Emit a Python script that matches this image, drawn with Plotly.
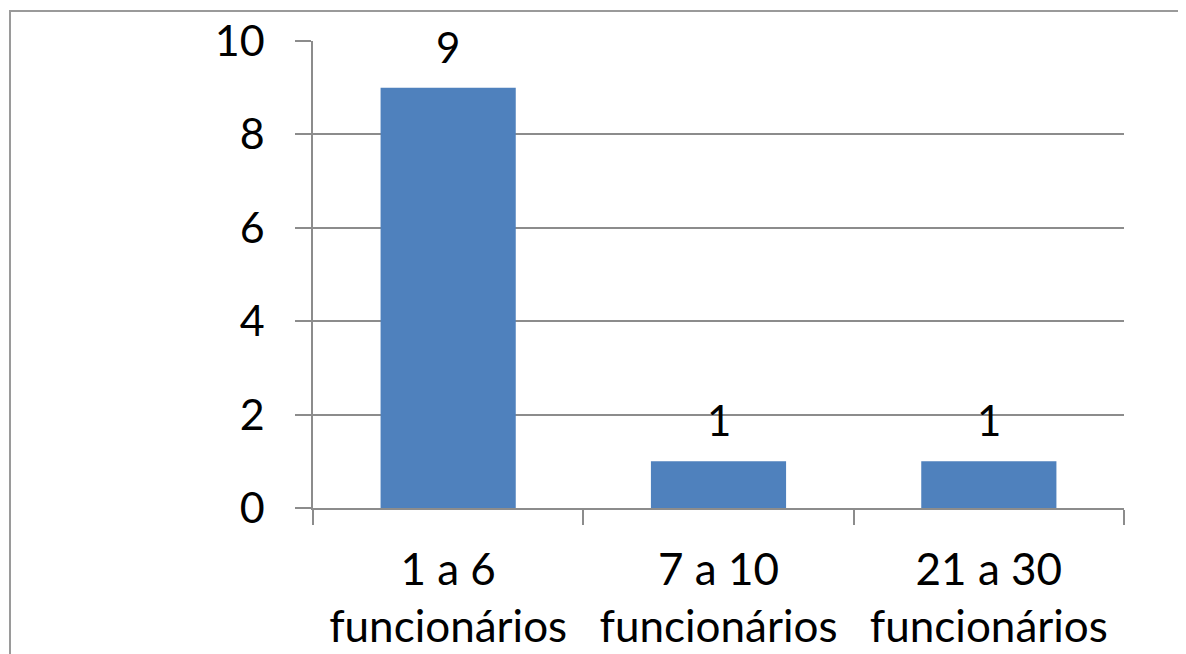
import plotly.graph_objects as go

categories = ["1 a 6<br>funcionários", "7 a 10<br>funcionários", "21 a 30<br>funcionários"]
values = [9, 1, 1]
y_ticks = [0, 2, 4, 6, 8, 10]

# page body has an 8px margin; compensate so the plot lands where the reference has it
OFF = 8
W, H = 1186 - OFF, 654 - OFF
L, R, T, B = 313 - OFF, 62, 41 - OFF, 146
pw, ph = W - L - R, H - T - B

FONT = "Lato, Open Sans, sans-serif"

fig = go.Figure(go.Bar(
    x=categories, y=values,
    marker=dict(color="#4F81BD", line=dict(width=0)),
    width=0.5,
))

for c, v in zip(categories, values):
    fig.add_annotation(x=c, y=v, text=str(v), showarrow=False, yanchor="bottom",
                       yshift=14, font=dict(family=FONT, size=42, color="black"))

gray = "#8C8C8C"
fig.update_layout(
    width=W, height=H, margin=dict(l=L, r=R, t=T, b=B),
    paper_bgcolor="white", plot_bgcolor="white",
    font=dict(family=FONT, size=42, color="black"),
    showlegend=False,
    xaxis=dict(tickson="boundaries", ticks="outside", ticklen=15, tickcolor=gray, tickwidth=1.5,
               showline=True, linecolor=gray, linewidth=1.5, showgrid=False,
               ticklabelstandoff=22, tickfont=dict(size=44), automargin=False),
    yaxis=dict(range=[0, 10], tickvals=y_ticks, ticks="outside", ticklen=16, tickcolor=gray, tickwidth=1.5,
               showline=True, linecolor=gray, linewidth=1.5, showgrid=True, gridcolor=gray, gridwidth=1.5,
               zeroline=False, ticklabelstandoff=22, tickfont=dict(size=43), automargin=False),
    bargap=0.5,
)

fig.add_shape(type="rect", xref="paper", yref="paper",
              x0=(10 - OFF - L) / pw, x1=1.3, y0=-0.5, y1=(H - B - (11 - OFF)) / ph,
              line=dict(color="#9A9A9A", width=2), layer="below")

fig.write_html("out.html")
